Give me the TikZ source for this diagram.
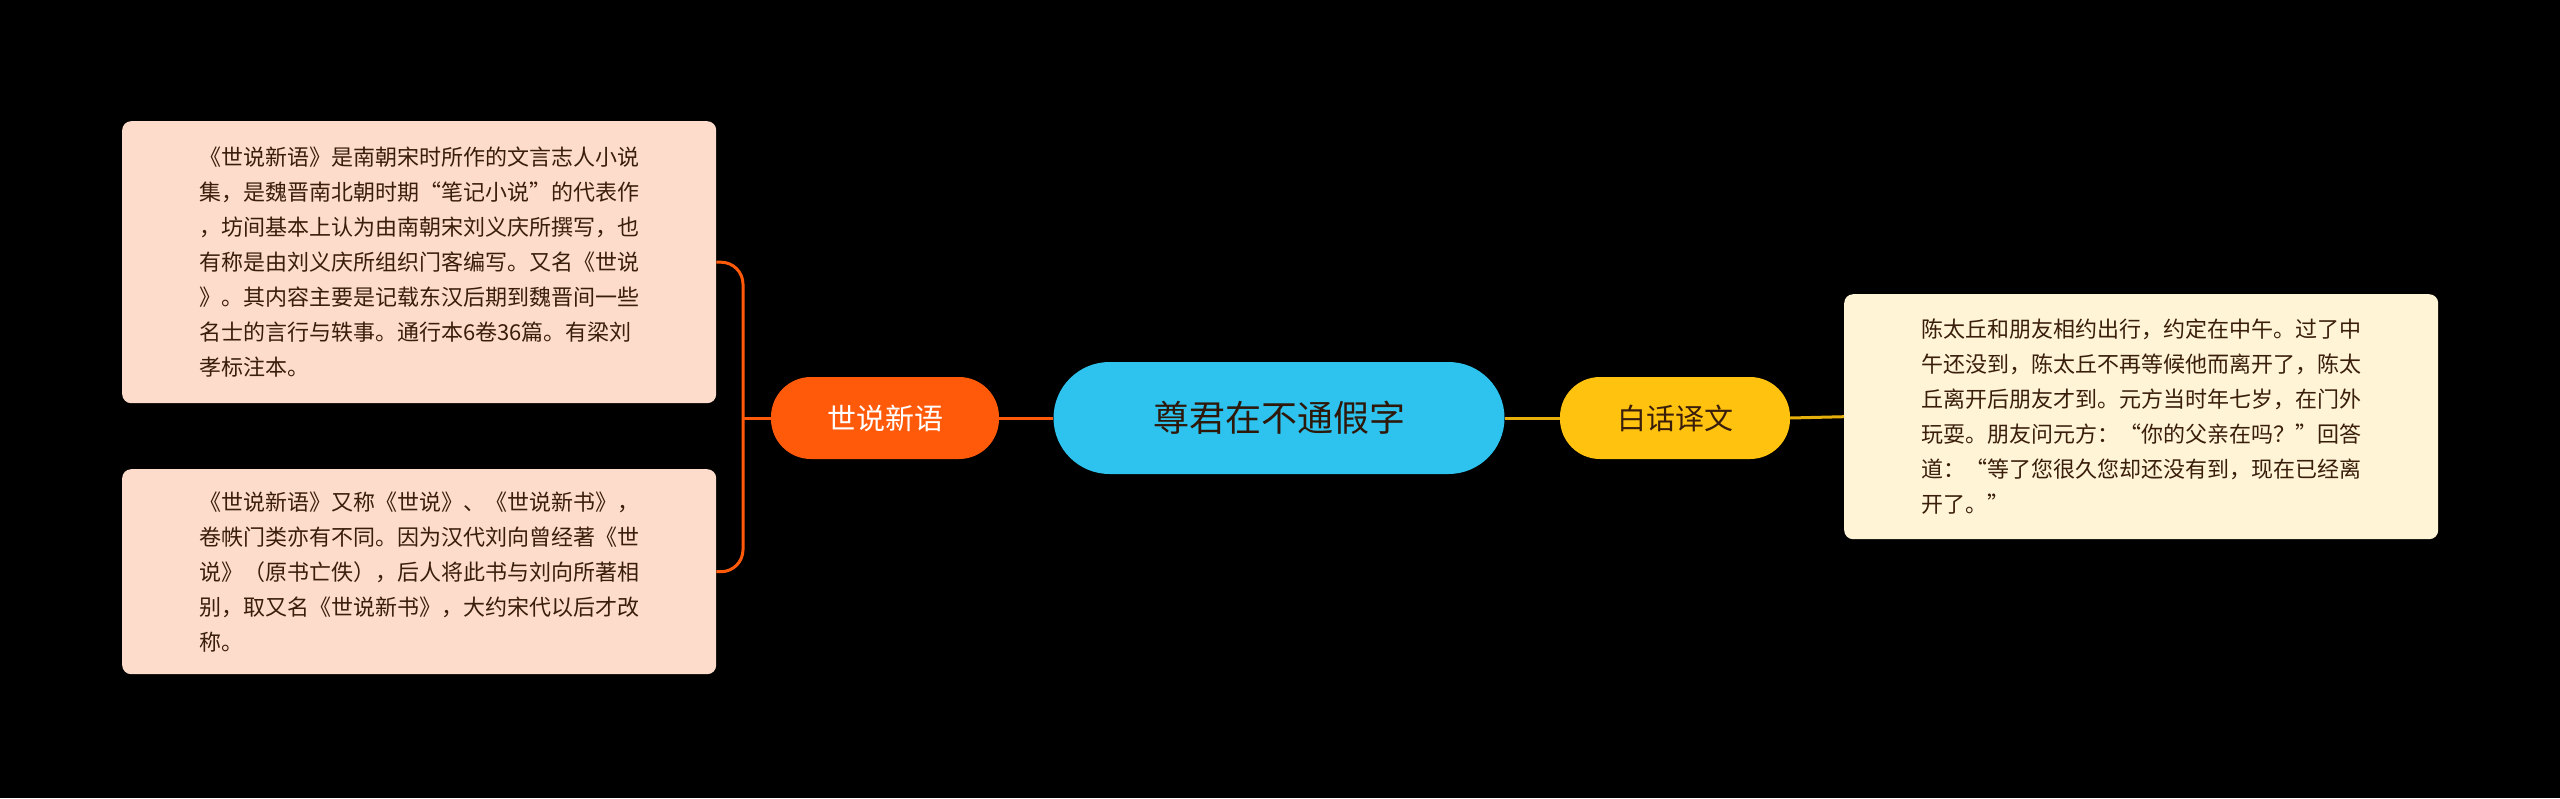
\documentclass[tikz,border=0pt]{standalone}
\usepackage{fontspec}
\setmainfont{Noto Sans CJK SC}
\begin{document}
\begin{tikzpicture}[x=1pt,y=-1pt,
  leaf/.style={rounded corners=9, inner xsep=14, inner ysep=12, align=left, font=\fontsize{22}{35}\selectfont, text=brown!40!black, anchor=north west},
  pill/.style={rounded corners=40, minimum height=82, font=\fontsize{29}{34}\selectfont}]
\definecolor{cblue}{HTML}{2DC3EE}
\definecolor{corange}{HTML}{FF5A0A}
\definecolor{cyel}{HTML}{FFC20E}
\definecolor{cpeach}{HTML}{FDDCCB}
\definecolor{ccream}{HTML}{FFF4D6}
\definecolor{ctext}{HTML}{3A1E0C}
\fill[black] (0,0) rectangle (2560,798);
\useasboundingbox (0,0) rectangle (2560,798);
\node[pill, fill=cblue, minimum width=451, rounded corners=56, minimum height=112, font=\fontsize{36}{40}\selectfont, text=ctext!80!black] (c) at (1279,418) {尊君在不通假字};
\node[pill, fill=corange, minimum width=228, text=white] (s) at (885,418) {世说新语};
\node[pill, fill=cyel, minimum width=230, text=ctext] (w) at (1675,418) {白话译文};
\node[leaf, fill=cpeach, text=ctext, minimum width=594, minimum height=282] (b1) at (122,121) {《世说新语》是南朝宋时所作的文言志人小说\\集，是魏晋南北朝时期“笔记小说”的代表作\\，坊间基本上认为由南朝宋刘义庆所撰写，也\\有称是由刘义庆所组织门客编写。又名《世说\\》。其内容主要是记载东汉后期到魏晋间一些\\名士的言行与轶事。通行本6卷36篇。有梁刘\\孝标注本。};
\node[leaf, fill=cpeach, text=ctext, minimum width=594, minimum height=205] (b2) at (122,469) {《世说新语》又称《世说》、《世说新书》，\\卷帙门类亦有不同。因为汉代刘向曾经著《世\\说》（原书亡佚），后人将此书与刘向所著相\\别，取又名《世说新书》，大约宋代以后才改\\称。};
\node[leaf, fill=ccream, text=ctext, minimum width=594, minimum height=245] (r) at (1844,294) {陈太丘和朋友相约出行，约定在中午。过了中\\午还没到，陈太丘不再等候他而离开了，陈太\\丘离开后朋友才到。元方当时年七岁，在门外\\玩耍。朋友问元方：“你的父亲在吗？”回答\\道：“等了您很久您却还没有到，现在已经离\\开了。”};
\coordinate (j) at (743,418);
\draw[corange, line width=3] (c.west) -- (s.east);
\draw[corange, line width=3] (s.west) -- (j);
\draw[corange, line width=3, rounded corners=22] (b1.east) -| (j);
\draw[corange, line width=3, rounded corners=22] (b2.east) -| (j);
\draw[cyel!90!black, line width=3] (c.east) -- (w.west);
\draw[cyel!90!black, line width=3] (w.east) -- (r.west);
\end{tikzpicture}
\end{document}
